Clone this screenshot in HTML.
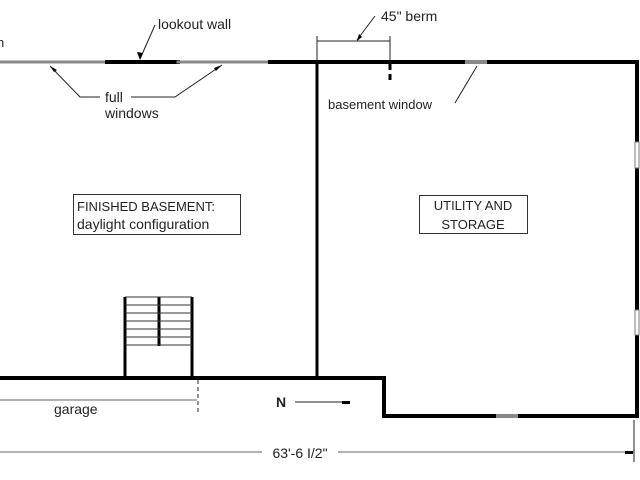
<!DOCTYPE html>
<html><head><meta charset="utf-8"><style>
html,body{margin:0;padding:0;background:#fff;width:640px;height:480px;overflow:hidden}
svg{display:block}
text{font-family:"Liberation Sans",sans-serif;fill:#222}
</style></head><body>
<svg width="640" height="480" viewBox="0 0 640 480" xmlns="http://www.w3.org/2000/svg">
<g stroke-linecap="square">
<line x1="0" y1="62" x2="107" y2="62" stroke="#888" stroke-width="3"/>
<line x1="107" y1="62" x2="178" y2="62" stroke="#000" stroke-width="4"/>
<line x1="178" y1="62" x2="270" y2="62" stroke="#888" stroke-width="3"/>
<line x1="270" y1="62" x2="467" y2="62" stroke="#000" stroke-width="4"/>
<line x1="467" y1="62" x2="489" y2="62" stroke="#888" stroke-width="4"/>
<line x1="489" y1="62" x2="637" y2="62" stroke="#000" stroke-width="4"/>
<line x1="317" y1="62" x2="317" y2="378" stroke="#000" stroke-width="3"/>
<line x1="637" y1="62" x2="637" y2="416" stroke="#000" stroke-width="4"/>
<line x1="0" y1="378" x2="384" y2="378" stroke="#000" stroke-width="4"/>
<line x1="384" y1="378" x2="384" y2="416" stroke="#000" stroke-width="4"/>
<line x1="384" y1="416" x2="498" y2="416" stroke="#000" stroke-width="4"/>
<line x1="498" y1="416" x2="520" y2="416" stroke="#888" stroke-width="4"/>
<line x1="520" y1="416" x2="637" y2="416" stroke="#000" stroke-width="4"/>
</g>
<rect x="635" y="142" width="4" height="26" fill="#fff" stroke="#777" stroke-width="1"/>
<rect x="635" y="310" width="4" height="25" fill="#fff" stroke="#777" stroke-width="1"/>
<g stroke="#000">
<line x1="125" y1="297" x2="125" y2="378" stroke-width="3"/>
<line x1="192" y1="297" x2="192" y2="378" stroke-width="3"/>
<line x1="159" y1="297" x2="159" y2="346" stroke-width="3"/>
<g stroke-width="1" stroke="#333">
<line x1="125" y1="297" x2="192" y2="297"/><line x1="125" y1="305" x2="192" y2="305"/>
<line x1="125" y1="313" x2="192" y2="313"/><line x1="125" y1="321" x2="192" y2="321"/>
<line x1="125" y1="329" x2="192" y2="329"/><line x1="125" y1="337" x2="192" y2="337"/>
<line x1="125" y1="345" x2="192" y2="345"/>
</g></g>
<g stroke="#222" stroke-width="1" fill="none">
<polyline points="155,25 140,59"/>
<polyline points="100,97 80,97 50,66"/>
<polyline points="131,97 175,97 222,65"/>
<polyline points="375,16 357,40"/>
<polyline points="455,103 477,66"/>
<line x1="317" y1="41" x2="390" y2="41"/>
<line x1="317" y1="36" x2="317" y2="60"/>
<line x1="390" y1="36" x2="390" y2="60"/>
<line x1="0" y1="400" x2="197" y2="400" stroke="#666"/>
<line x1="198" y1="380" x2="198" y2="413" stroke-dasharray="4,3"/>
<line x1="295" y1="402" x2="350" y2="402"/>
<line x1="0" y1="452" x2="262" y2="452" stroke="#666"/>
<line x1="338" y1="452" x2="634" y2="452" stroke="#666"/>
<line x1="634" y1="420" x2="634" y2="462"/>
</g>
<line x1="390" y1="64" x2="390" y2="82" stroke="#000" stroke-width="3" stroke-dasharray="6,4"/>
<g fill="#000">
<polygon points="140,60 137,52 143,53"/>
<polygon points="50,66 57,70 54,72"/>
<polygon points="222,65 216,71 214,68"/>
<polygon points="357,41 359,34 362,37"/>
<rect x="342" y="401" width="8" height="3"/>
<rect x="625" y="451" width="8" height="3"/>
</g>
<text x="-3" y="47" font-size="13">n</text>
<text x="158" y="29" font-size="14">lookout wall</text>
<text x="105" y="102" font-size="14">full</text>
<text x="105" y="118" font-size="14">windows</text>
<text x="381" y="21" font-size="14">45" berm</text>
<text x="328" y="109" font-size="13">basement window</text>
<rect x="73.5" y="194.5" width="167" height="40" fill="none" stroke="#333"/>
<text x="77" y="211" font-size="13">FINISHED BASEMENT:</text>
<text x="77" y="229" font-size="14">daylight configuration</text>
<rect x="419.5" y="195.5" width="108" height="38" fill="none" stroke="#333"/>
<text x="473" y="210" font-size="13" text-anchor="middle">UTILITY AND</text>
<text x="473" y="229" font-size="13" text-anchor="middle">STORAGE</text>
<text x="54" y="414" font-size="14">garage</text>
<text x="276" y="407" font-size="14" font-weight="bold" fill="#000">N</text>
<text x="300" y="458" font-size="14" text-anchor="middle">63'-6 I/2"</text>
</svg>
</body></html>
